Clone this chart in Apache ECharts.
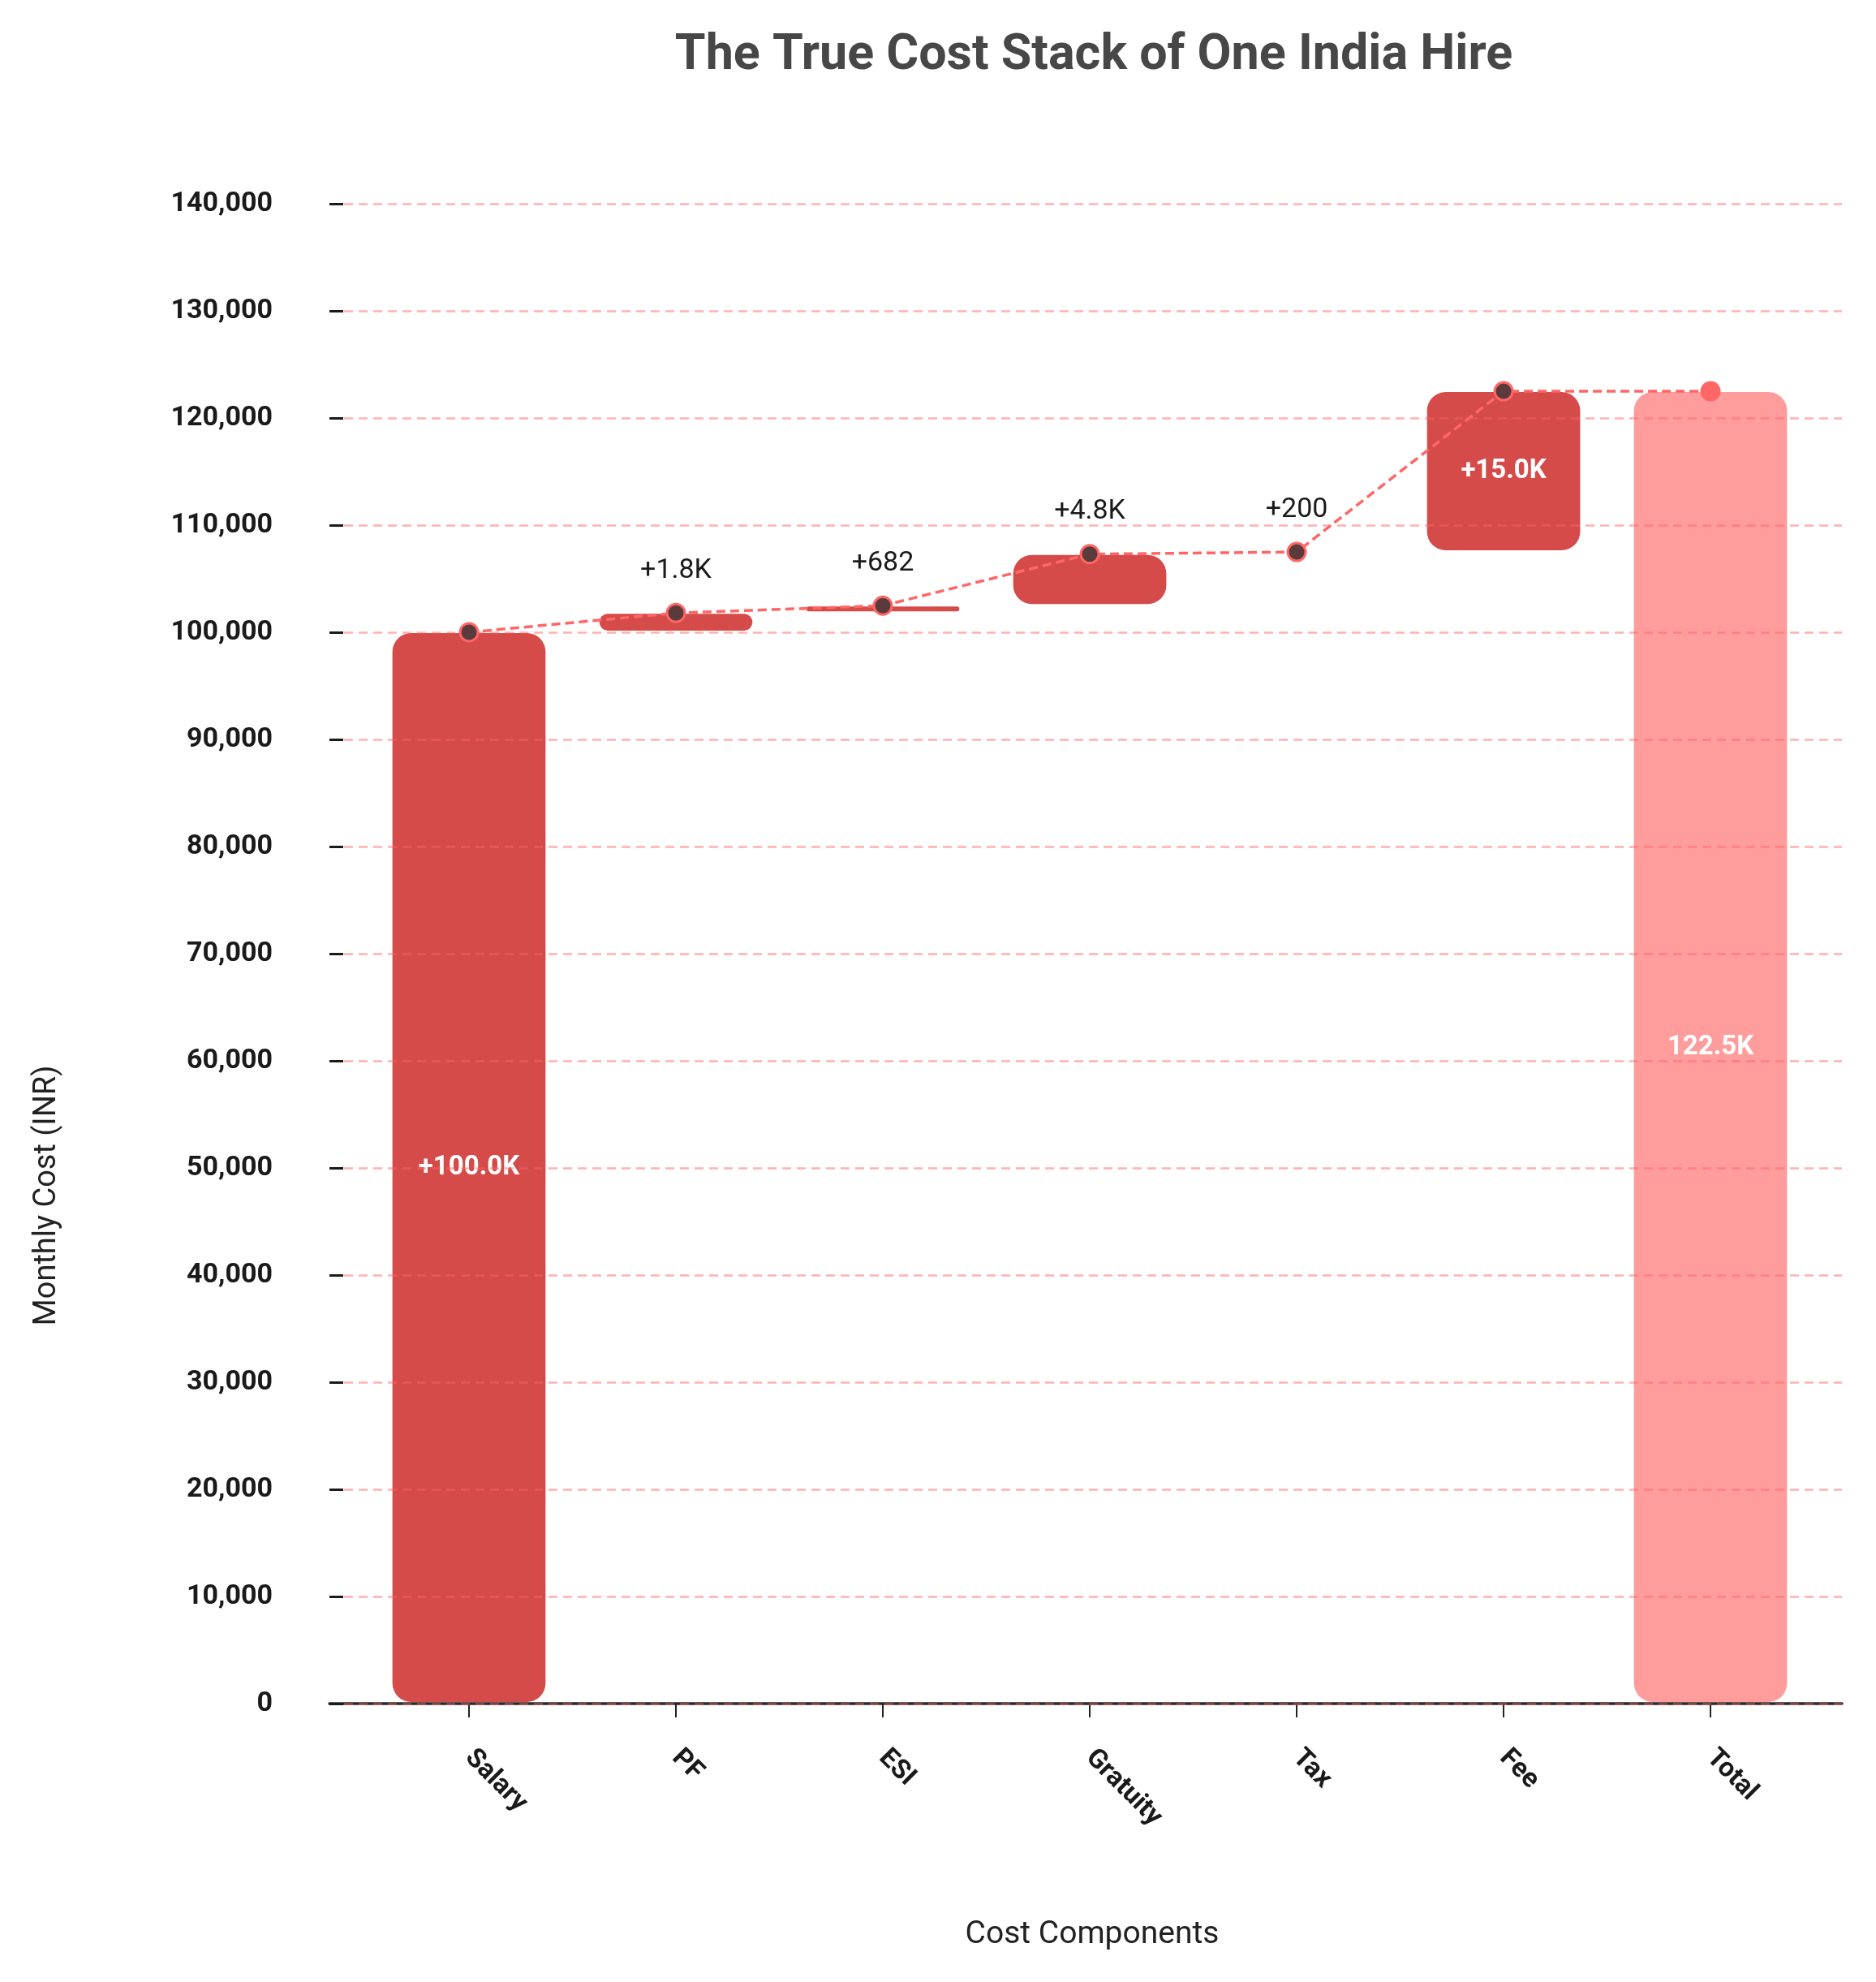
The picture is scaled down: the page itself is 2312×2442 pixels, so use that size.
<!DOCTYPE html>
<html>
<head>
<meta charset="utf-8">
<script src="https://cdn.jsdelivr.net/npm/echarts@6/dist/echarts.min.js"></script>
<style>
  html, body { margin: 0; padding: 0; background: #ffffff; }
  #chart { width: 2312px; height: 2442px; }
</style>
</head>
<body>
<div id="chart"></div>
<script>
// ---- data ----
const categories = ['Salary', 'PF', 'ESI', 'Gratuity', 'Tax', 'Fee', 'Total'];
const increments = [100000, 1800, 682, 4810, 200, 15000];
const totalValue = 122492;
const barLabels = ['+100.0K', '+1.8K', '+682', '+4.8K', '+200', '+15.0K', '122.5K'];
const yMin = 0;
const yMax = 140000;
const yInterval = 10000;

// ---- derived waterfall ranges ----
const bars = [];
const cumPoints = [];
let running = 0;
increments.forEach((v, i) => {
  bars.push([i, running, running + v, 0]);
  running += v;
  cumPoints.push([i, running]);
});
bars.push([increments.length, 0, totalValue, 1]);
cumPoints.push([increments.length, totalValue]);

const FONT = 'Roboto, "Noto Sans", "DejaVu Sans", sans-serif';
const INC_COLOR = '#D54B4A';
const TOTAL_COLOR = '#FF9C9C';

const chart = echarts.init(document.getElementById('chart'), null, { renderer: 'canvas' });

chart.setOption({
  backgroundColor: '#ffffff',
  animation: false,
  title: {
    text: 'The True Cost Stack of One India Hire',
    left: 1343,
    textAlign: 'center',
    top: 34,
    textStyle: { fontFamily: FONT, fontWeight: 'bold', fontSize: 61, color: '#474747' }
  },
  grid: { left: 406, right: 42, top: 251, bottom: 343, containLabel: false },
  xAxis: {
    type: 'value',
    min: -0.6745,
    max: 6.635,
    name: 'Cost Components',
    nameLocation: 'middle',
    nameGap: 266,
    nameTextStyle: { fontFamily: FONT, fontSize: 39, color: '#222222', padding: [0, 0, 0, 16] },
    axisLine: { show: true, onZero: false, lineStyle: { color: '#2a2a2a', width: 3.5 } },
    axisTick: { show: true, customValues: [0, 1, 2, 3, 4, 5, 6], length: 17, lineStyle: { color: '#222222', width: 2 } },
    axisLabel: {
      customValues: [0, 1, 2, 3, 4, 5, 6],
      formatter: (v) => categories[Math.round(v)] || '',
      rotate: -45,
      margin: 62,
      fontFamily: FONT, fontWeight: 'bold', fontSize: 33, color: '#1a1a1a'
    },
    splitLine: { show: false }
  },
  yAxis: {
    type: 'value',
    min: yMin,
    max: yMax,
    interval: yInterval,
    z: 5,
    axisLine: { show: false, onZero: false },
    axisTick: { show: true, inside: true, length: 17, lineStyle: { color: '#1a1a1a', width: 3 } },
    axisLabel: {
      margin: 70,
      formatter: (v) => v.toLocaleString('en-US'),
      fontFamily: FONT, fontWeight: 'bold', fontSize: 34, color: '#1a1a1a'
    },
    splitLine: { show: true, lineStyle: { color: 'rgba(255,100,100,0.5)', width: 2.5, type: [11, 7] } }
  },
  graphic: [
    {
      type: 'text',
      x: 58, y: 1473,
      rotation: Math.PI / 2,
      style: {
        text: 'Monthly Cost (INR)',
        fontFamily: FONT, fontSize: 38, fill: '#222222',
        textAlign: 'center', textVerticalAlign: 'middle'
      }
    }
  ],
  series: [
    {
      type: 'custom',
      z: 2,
      data: bars,
      renderItem: function (params, api) {
        const x = api.value(0), lo = api.value(1), hi = api.value(2), isTotal = api.value(3);
        const pTop = api.coord([x, hi]);
        const pBot = api.coord([x, lo]);
        const w = api.size([0.74, 0])[0];
        const top = pTop[1] + 1;
        const bottom = pBot[1] - 2;
        const h = bottom - top;
        const children = [];
        if (h > 0) {
          children.push({
            type: 'rect',
            shape: { x: pTop[0] - w / 2, y: top, width: w, height: h, r: 23 },
            style: { fill: isTotal ? TOTAL_COLOR : INC_COLOR }
          });
        }
        const idx = params.dataIndex;
        const big = (hi - lo) >= 10000;
        if (big) {
          children.push({
            type: 'text',
            x: pTop[0], y: (pTop[1] + pBot[1]) / 2,
            z2: 10,
            style: {
              text: barLabels[idx], fill: '#ffffff',
              fontFamily: FONT, fontWeight: 'bold', fontSize: 33,
              textAlign: 'center', textVerticalAlign: 'middle'
            }
          });
        } else {
          children.push({
            type: 'text',
            x: pTop[0], y: pTop[1] - 52,
            z2: 10,
            style: {
              text: barLabels[idx], fill: '#1a1a1a',
              fontFamily: FONT, fontWeight: 'normal', fontSize: 34,
              textAlign: 'center', textVerticalAlign: 'middle'
            }
          });
        }
        return { type: 'group', children: children };
      }
    },
    {
      type: 'line',
      z: 8,
      data: cumPoints.map((p, i) => i === cumPoints.length - 1
        ? { value: p, itemStyle: { color: '#FF6666', borderColor: '#FF6666' } }
        : { value: p }),
      symbol: 'circle',
      symbolSize: 22,
      itemStyle: { color: '#5A3A3A', borderColor: '#FF6666', borderWidth: 3 },
      lineStyle: { color: '#FF6666', width: 3.5, type: [11, 6] },
      label: { show: false }
    }
  ]
});
</script>
</body>
</html>
